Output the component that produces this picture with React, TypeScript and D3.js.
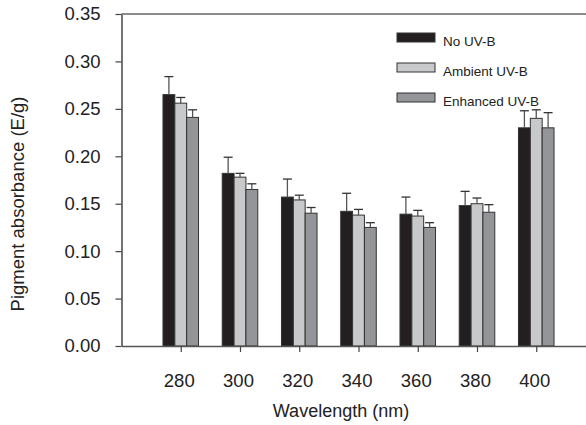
import React, { useEffect, useRef } from 'react';
import * as d3 from 'd3';

// wavelength groups on the x axis
const wavelengths = [280, 300, 320, 340, 360, 380, 400];

// pigment absorbance (E/g) and upper error for each treatment
const noUvb = [0.265, 0.182, 0.157, 0.142, 0.139, 0.148, 0.230];
const noUvbErr = [0.019, 0.017, 0.019, 0.019, 0.018, 0.015, 0.018];
const ambientUvb = [0.256, 0.178, 0.154, 0.138, 0.137, 0.150, 0.240];
const ambientUvbErr = [0.006, 0.004, 0.005, 0.006, 0.006, 0.006, 0.009];
const enhancedUvb = [0.241, 0.165, 0.140, 0.125, 0.125, 0.141, 0.230];
const enhancedUvbErr = [0.008, 0.006, 0.006, 0.005, 0.005, 0.008, 0.016];

const seriesNames = ['No UV-B', 'Ambient UV-B', 'Enhanced UV-B'];
const yTicks = [0, 0.05, 0.1, 0.15, 0.2, 0.25, 0.3, 0.35];

const WIDTH = 586;
const HEIGHT = 425;
const FONT = "Arial, 'Liberation Sans', sans-serif";

export default function App() {
  const ref = useRef<SVGSVGElement>(null);

  useEffect(() => {
    const svg = d3.select(ref.current);
    svg.selectAll('*').remove();

    const series = [
      { name: seriesNames[0], values: noUvb, errs: noUvbErr, fill: '#231f20' },
      { name: seriesNames[1], values: ambientUvb, errs: ambientUvbErr, fill: '#c8c9cb' },
      { name: seriesNames[2], values: enhancedUvb, errs: enhancedUvbErr, fill: '#939598' },
    ];

    // x is a linear wavelength axis, bars are 4 nm wide each
    const x = d3.scaleLinear().domain([260, 420]).range([121.5, 595.5]);
    const y = d3.scaleLinear().domain([0, 0.35]).range([346, 14]);
    const barNm = 4;
    const barW = x(260 + barNm) - x(260);

    // frame line at the top (runs off the right edge like the x axis)
    svg.append('line')
      .attr('x1', x(260)).attr('x2', WIDTH)
      .attr('y1', y(0.35)).attr('y2', y(0.35))
      .attr('stroke', '#666').attr('stroke-width', 1.5);

    // bars
    series.forEach((s, i) => {
      const off = -1.5 * barNm + i * barNm;
      const g = svg.append('g');
      g.selectAll('rect')
        .data(wavelengths)
        .join('rect')
        .attr('x', (w) => x(w + off))
        .attr('width', barW)
        .attr('y', (_w, j) => y(s.values[j]))
        .attr('height', (_w, j) => y(0) - y(s.values[j]))
        .attr('fill', s.fill)
        .attr('stroke', '#333')
        .attr('stroke-width', 1);

      // error bars, upper side only
      const cx = (w: number) => x(w + off + barNm / 2);
      g.selectAll('line.err')
        .data(wavelengths)
        .join('line')
        .attr('class', 'err')
        .attr('x1', cx).attr('x2', cx)
        .attr('y1', (_w, j) => y(s.values[j]))
        .attr('y2', (_w, j) => y(s.values[j] + s.errs[j]))
        .attr('stroke', '#555').attr('stroke-width', 1.3);
      g.selectAll('line.cap')
        .data(wavelengths)
        .join('line')
        .attr('class', 'cap')
        .attr('x1', (w) => cx(w) - 4.5).attr('x2', (w) => cx(w) + 4.5)
        .attr('y1', (_w, j) => y(s.values[j] + s.errs[j]))
        .attr('y2', (_w, j) => y(s.values[j] + s.errs[j]))
        .attr('stroke', '#333').attr('stroke-width', 1.3);
    });

    // y axis
    const yAxis = svg.append('g')
      .attr('transform', `translate(${x(260)},0)`)
      .call(d3.axisLeft(y).tickValues(yTicks).tickFormat(d3.format('.2f')).tickSize(6).tickPadding(15).tickSizeOuter(0));
    yAxis.select('.domain').attr('stroke', '#444').attr('stroke-width', 1.5);
    yAxis.selectAll('.tick line').attr('stroke', '#444').attr('stroke-width', 1.2);
    yAxis.selectAll('text').attr('font-family', FONT).attr('font-size', 18.5).attr('fill', '#222');

    // x axis
    const xAxis = svg.append('g')
      .attr('transform', `translate(0,${y(0)})`)
      .call(d3.axisBottom(x).tickValues(wavelengths).tickFormat(d3.format('d')).tickSize(6).tickPadding(22).tickSizeOuter(0));
    xAxis.select('.domain').attr('stroke', '#555').attr('stroke-width', 1.5);
    xAxis.selectAll('.tick line').attr('stroke', '#444').attr('stroke-width', 1.2);
    xAxis.selectAll('text').attr('font-family', FONT).attr('font-size', 18.5).attr('fill', '#222').attr('dx', -2);

    // axis titles
    svg.append('text')
      .attr('transform', 'translate(24,204) rotate(-90)')
      .attr('text-anchor', 'middle')
      .attr('font-family', FONT).attr('font-size', 18.5).attr('fill', '#222')
      .text('Pigment absorbance (E/g)');
    svg.append('text')
      .attr('x', 341).attr('y', 417)
      .attr('text-anchor', 'middle')
      .attr('font-family', FONT).attr('font-size', 18).attr('fill', '#222')
      .text('Wavelength (nm)');

    // legend
    const legend = svg.append('g').attr('transform', 'translate(397,33)');
    series.forEach((s, i) => {
      const row = legend.append('g').attr('transform', `translate(0,${i * 30})`);
      row.append('rect')
        .attr('width', 38).attr('height', 9)
        .attr('fill', s.fill).attr('stroke', '#333').attr('stroke-width', 1);
      row.append('text')
        .attr('x', 46).attr('y', 12.5)
        .attr('font-family', FONT).attr('font-size', 13.5).attr('fill', '#222')
        .text(s.name);
    });
  }, []);

  return (
    <svg
      ref={ref}
      width={WIDTH}
      height={HEIGHT}
      style={{ position: 'absolute', left: 0, top: 0, background: '#fff' }}
    />
  );
}
